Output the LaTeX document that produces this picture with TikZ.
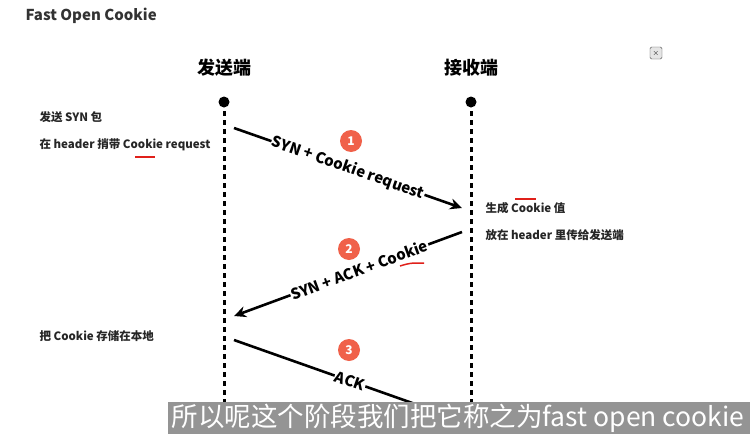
\documentclass[tikz,border=0pt]{standalone}
\usepackage{fontspec}
\setmainfont{Noto Sans CJK SC}
\usetikzlibrary{arrows.meta}
\definecolor{badge}{HTML}{F0614A}
\definecolor{uline}{HTML}{E0201A}
\begin{document}
\begin{tikzpicture}[x=1pt,y=-1pt,
  lifeline/.style={line width=3pt,dash pattern=on 5pt off 4pt},
  msg/.style={line width=2.6pt,-{Stealth[length=12pt,width=11pt]}},
  lbl/.style={fill=white,inner sep=1pt,font=\fontsize{15}{15}\selectfont\bfseries},
  note/.style={anchor=west,font=\fontsize{11.5}{11.5}\selectfont\bfseries,text=black!85},
  badgec/.style={circle,fill=badge,text=white,inner sep=0pt,minimum size=22pt,font=\fontsize{12}{12}\selectfont\bfseries},
  head/.style={font=\fontsize{18}{18}\selectfont\bfseries},
  redline/.style={draw=uline,line width=1.5pt}]
\useasboundingbox (0,0) rectangle (750,434);
\fill[white] (0,0) rectangle (750,434);
\node[anchor=west,font=\fontsize{15}{15}\selectfont\bfseries,text=black!80] (title) at (22,16) {Fast Open Cookie};
\node[draw=black!70,fill=black!10,rounded corners=1.5pt,minimum size=12pt,inner sep=0pt,font=\fontsize{8}{8}\selectfont] (icon) at (656,53) {$\times$};
\node[head] (hA) at (224,68) {发送端};
\node[head] (hB) at (471,68) {接收端};
\fill (224,102) circle (5.5pt) coordinate (dA);
\fill (471,102) circle (5.5pt) coordinate (dB);
\coordinate (eA) at (224,434);
\coordinate (eB) at (471,434);
\draw[lifeline] (dA) -- (eA);
\draw[lifeline] (dB) -- (eB);
\coordinate (s1) at (234,128); \coordinate (t1) at (462,208);
\coordinate (s2) at (462,232); \coordinate (t2) at (234,316);
\coordinate (s3) at (234,340); \coordinate (t3) at (466,422);
\draw[msg] (s1) -- node[lbl,sloped,pos=0.5] (l1) {SYN + Cookie request} (t1);
\draw[msg] (s2) -- node[lbl,sloped,pos=0.45] (l2) {SYN + ACK + Cookie} (t2);
\draw[msg] (s3) -- node[lbl,sloped,pos=0.5] (l3) {ACK} (t3);
\node[badgec] (b1) at (351,141) {1};
\node[badgec] (b2) at (349,249) {2};
\node[badgec] (b3) at (349,350) {3};
\node[note] (n1) at (36,117) {发送 SYN 包};
\node[note] (n2) at (36,145) {在 header 捎带 Cookie request};
\draw[redline] (135,157) -- (155,157);
\node[note] (n3) at (482,208) {生成 Cookie 值};
\node[note] (n4) at (482,235) {放在 header 里传给发送端};
\draw[redline] (515,199) -- (536,199);
\draw[redline] (400,266) .. controls (410,263) .. (424,263);
\node[note] (n5) at (36,336) {把 Cookie 存储在本地};
\fill[black!42] (168,402) rectangle (750,434);
\node[anchor=east,text=white,font=\fontsize{26.5}{26.5}\selectfont] (cap) at (748,418) {所以呢这个阶段我们把它称之为fast open cookie};
\end{tikzpicture}
\end{document}
